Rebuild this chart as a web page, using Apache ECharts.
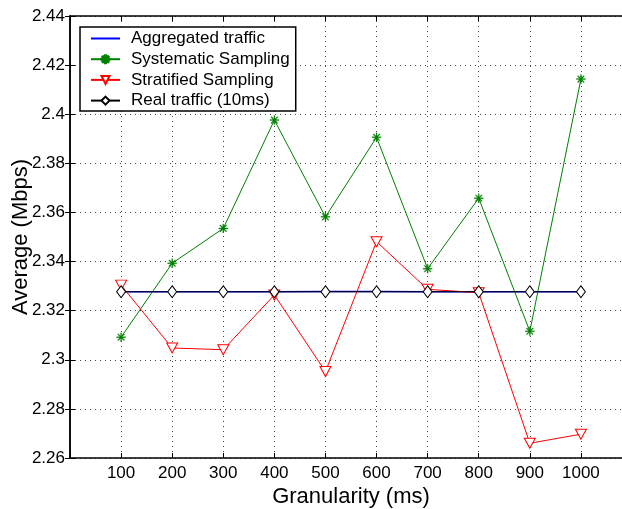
<!DOCTYPE html>
<html><head><meta charset="utf-8">
<script src="https://cdn.jsdelivr.net/npm/echarts@6/dist/echarts.min.js"></script>
<style>html,body{margin:0;padding:0;background:#fff}#c{width:622px;height:509px}</style>
</head><body><div id="c"></div>
<script>
const granularity = [100, 200, 300, 400, 500, 600, 700, 800, 900, 1000];
const aggregated = [2.3277, 2.3277, 2.3277, 2.3277, 2.3278, 2.3278, 2.3277, 2.3277, 2.3277, 2.3277];
const systematic = [2.3092, 2.3393, 2.3535, 2.3976, 2.3582, 2.3906, 2.3371, 2.3658, 2.3116, 2.4143];
const stratified = [2.3304, 2.3048, 2.3041, 2.3264, 2.2952, 2.3481, 2.3287, 2.3273, 2.2660, 2.2697];
const realTraffic = [2.3277, 2.3277, 2.3277, 2.3277, 2.3277, 2.3277, 2.3277, 2.3277, 2.3277, 2.3277];
const yTicks = [2.26, 2.28, 2.3, 2.32, 2.34, 2.36, 2.38, 2.4, 2.42, 2.44];

function pairs(vals){ return granularity.map((g,i)=>[g, vals[i]]); }

// asterisk symbol path
function asterisk(){
  let p = '';
  const L = 5, w = 0.55;
  for (let k=0;k<4;k++){
    const a = k*Math.PI/4, c=Math.cos(a), s=Math.sin(a);
    const nx=-s*w, ny=c*w;
    const pts=[[ -L*c+nx, -L*s+ny],[L*c+nx, L*s+ny],[L*c-nx, L*s-ny],[-L*c-nx,-L*s-ny]];
    p += 'M'+pts.map(q=>q[0].toFixed(3)+','+q[1].toFixed(3)).join(' L')+' Z ';
  }
  return 'path://'+p;
}

const FONT = '"Liberation Sans", Arial, Helvetica, sans-serif';
const chart = echarts.init(document.getElementById('c'), null, {renderer:'canvas'});
const gridLine = {show:true, lineStyle:{color:'#444', type:[1,4], width:1}};
const legText = {fontFamily:FONT, fontSize:17, color:'#000', lineHeight:17, padding:[0,0,0,6]};
chart.setOption({
  animation:false,
  backgroundColor:'#fff',
  grid:{left:70, top:16, width:562, bottom:51, outerBoundsMode:'none', containLabel:false},
  legend:{
    orient:'vertical', left:80, top:27,
    backgroundColor:'#fff', borderColor:'#000', borderWidth:1.5,
    padding:[3,6,2,10], itemGap:3.7, itemWidth:29, itemHeight:10,
    textStyle:legText,
    data:[
      {name:'Aggregated traffic', itemStyle:{opacity:0}},
      {name:'Systematic Sampling'},
      {name:'Stratified Sampling'},
      {name:'Real traffic (10ms)'}
    ]
  },
  xAxis:[{
    type:'value', min:0, max:1100, interval:100, position:'bottom',
    name:'Granularity (ms)', nameLocation:'middle', nameGap:28, nameMoveOverlap:false,
    nameTextStyle:{fontFamily:FONT, fontSize:22, color:'#000'},
    axisLine:{lineStyle:{color:'#000', width:1.5}},
    axisTick:{inside:true, length:5, lineStyle:{color:'#000'}},
    axisLabel:{fontFamily:FONT, fontSize:17, color:'#000', margin:7,
      formatter:v=> (v>=100 && v<=1000) ? String(v) : ''},
    splitLine:gridLine
  },{
    type:'value', min:0, max:1100, interval:100, position:'top',
    axisLine:{show:true, lineStyle:{color:'#000', width:1.5}},
    axisTick:{inside:true, length:5, lineStyle:{color:'#000'}},
    axisLabel:{show:false}, splitLine:{show:false}
  }],
  yAxis:[{
    type:'value', min:2.26, max:2.44, interval:0.02, position:'left',
    name:'Average (Mbps)', nameLocation:'middle', nameGap:38, nameMoveOverlap:false,
    nameTextStyle:{fontFamily:FONT, fontSize:22, color:'#000'},
    axisLine:{show:true, lineStyle:{color:'#000', width:1.5}},
    axisTick:{show:true, inside:true, length:5, lineStyle:{color:'#000'}},
    axisLabel:{fontFamily:FONT, fontSize:17, color:'#000', margin:5,
      formatter:v=>String(parseFloat(v.toFixed(2)))},
    splitLine:gridLine
  },{
    type:'value', min:2.26, max:2.44, interval:0.02, position:'right',
    axisLine:{show:true, lineStyle:{color:'#000', width:1.5}},
    axisTick:{show:true, inside:true, length:5, lineStyle:{color:'#000'}},
    axisLabel:{show:false}, splitLine:{show:false}
  }],
  series:[
    {name:'Aggregated traffic', type:'line', data:pairs(aggregated), showSymbol:false, symbol:'none',
      lineStyle:{color:'#0000ff', width:1.6}, itemStyle:{color:'#0000ff'}, z:2},
    {name:'Systematic Sampling', type:'line', data:pairs(systematic),
      symbol:asterisk(), symbolSize:9,
      lineStyle:{color:'#008000', width:1}, itemStyle:{color:'#008000', borderColor:'#008000', borderWidth:0.3}, z:3},
    {name:'Stratified Sampling', type:'line', data:pairs(stratified),
      symbol:'triangle', symbolRotate:180, symbolSize:[11,10],
      lineStyle:{color:'#ff0000', width:1}, itemStyle:{color:'#fff', borderColor:'#ff0000', borderWidth:1}, z:4},
    {name:'Real traffic (10ms)', type:'line', data:pairs(realTraffic),
      symbol:'diamond', symbolSize:[9,12],
      lineStyle:{color:'#000', width:1.2}, itemStyle:{color:'#fff', borderColor:'#000', borderWidth:1}, z:5}
  ]
});
</script></body></html>
